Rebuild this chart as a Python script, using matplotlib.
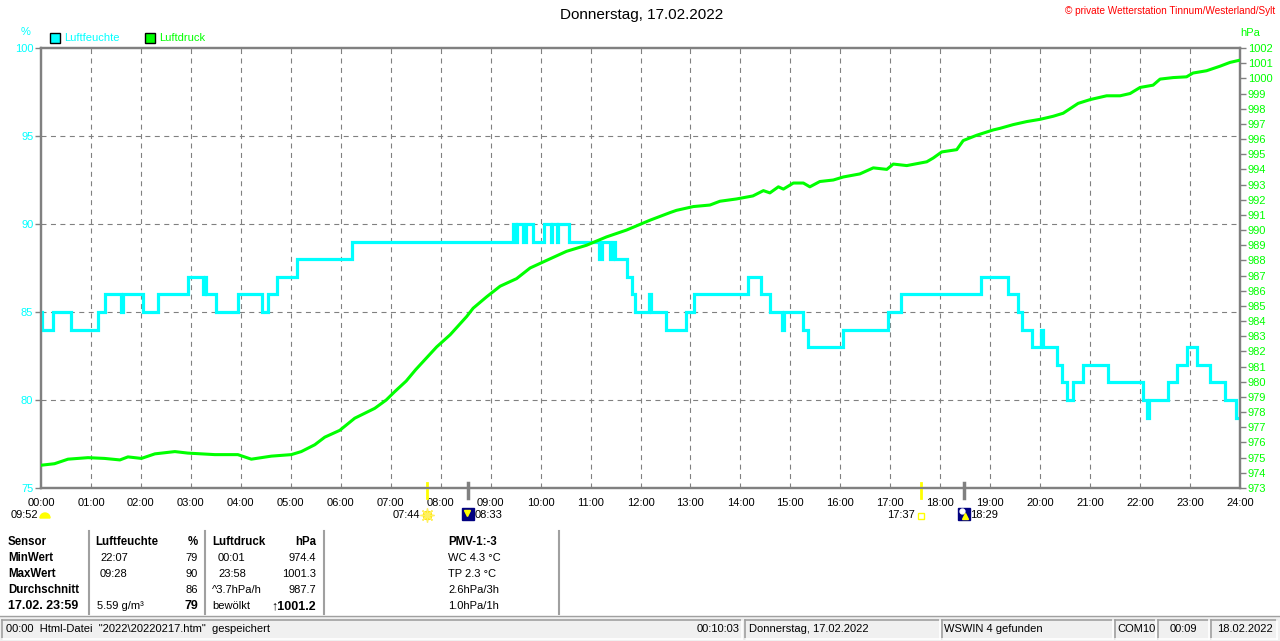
import matplotlib
matplotlib.use("Agg")
import matplotlib.pyplot as plt
from matplotlib.patches import Rectangle, Wedge
from matplotlib.transforms import blended_transform_factory

plt.rcParams['font.family'] = ['Liberation Sans', 'DejaVu Sans']

# ---------------- data ----------------
hour_ticks = list(range(0, 25))
hour_labels = [f"{h:02d}:00" for h in hour_ticks]

hum_ticks = [75, 80, 85, 90, 95, 100]
hpa_ticks = list(range(973, 1003))

# humidity (%), step changes: time in hours -> value
hum_t = [0.00, 0.03, 0.25, 0.61, 1.15, 1.28, 1.60, 1.65, 2.05, 2.35, 2.95, 3.25, 3.28, 3.30,
         3.50, 3.95, 4.43, 4.54, 4.72, 5.12, 6.23, 9.44, 9.50, 9.52, 9.65, 9.70, 9.85, 10.07,
         10.20, 10.23, 10.32, 10.35, 10.57, 11.16, 11.22, 11.39, 11.45, 11.48, 11.72, 11.82,
         11.89, 12.17, 12.21, 12.52, 12.91, 13.07, 14.16, 14.42, 14.60, 14.84, 14.88, 15.26,
         15.36, 16.05, 16.95, 17.21, 18.81, 19.36, 19.56, 19.64, 19.84, 20.02, 20.05, 20.33,
         20.43, 20.54, 20.65, 20.85, 21.36, 22.05, 22.13, 22.18, 22.56, 22.73, 22.93, 23.13,
         23.40, 23.70, 23.91, 24.00]
hum_v = [85, 84, 85, 84, 85, 86, 85, 86, 85, 86, 87, 86, 87, 86,
         85, 86, 85, 86, 87, 88, 89, 90, 89, 90, 89, 90, 89, 90,
         89, 90, 89, 90, 89, 88, 89, 88, 89, 88, 87, 86,
         85, 86, 85, 84, 85, 86, 87, 86, 85, 84, 85, 84,
         83, 84, 85, 86, 87, 86, 85, 84, 83, 84, 83, 82,
         81, 80, 81, 82, 81, 80, 79, 80, 81, 82, 83, 82,
         81, 80, 79, 79]

# air pressure (hPa)
p_t = [0.0, 0.27, 0.54, 0.94, 1.27, 1.58, 1.74, 2.01, 2.28, 2.68, 2.94, 3.48, 3.94, 4.21, 4.61,
       5.01, 5.21, 5.48, 5.68, 5.98, 6.28, 6.68, 6.91, 7.08, 7.31, 7.5, 7.92, 8.19, 8.52, 8.65,
       8.92, 9.19, 9.52, 9.79, 10.12, 10.52, 10.92, 11.32, 11.72, 12.19, 12.59, 12.72, 13.06,
       13.39, 13.59, 13.92, 14.25, 14.46, 14.59, 14.76, 14.86, 15.06, 15.26, 15.39, 15.59,
       15.86, 16.06, 16.39, 16.66, 16.93, 17.06, 17.33, 17.73, 17.86, 18.03, 18.33, 18.46,
       18.73, 19.06, 19.19, 19.46, 19.73, 20.0, 20.26, 20.46, 20.76, 21.0, 21.33, 21.6, 21.8,
       22.0, 22.26, 22.4, 22.66, 22.93, 23.06, 23.33, 23.6, 23.8, 24.0]
p_v = [974.5, 974.6, 974.9, 975.0, 974.95, 974.85, 975.05, 974.95, 975.25, 975.4, 975.3, 975.2,
       975.2, 974.9, 975.1, 975.2, 975.4, 975.85, 976.35, 976.8, 977.6, 978.25, 978.8, 979.35,
       980.05, 980.8, 982.3, 983.1, 984.3, 984.85, 985.6, 986.3, 986.8, 987.5, 988.0, 988.6,
       989.0, 989.55, 990.0, 990.65, 991.15, 991.3, 991.55, 991.65, 991.9, 992.05, 992.25,
       992.6, 992.45, 992.85, 992.7, 993.1, 993.1, 992.85, 993.2, 993.3, 993.5, 993.7, 994.1,
       994.0, 994.35, 994.25, 994.5, 994.75, 995.15, 995.3, 995.9, 996.25, 996.6, 996.7,
       996.95, 997.15, 997.3, 997.5, 997.7, 998.35, 998.6, 998.85, 998.85, 999.0, 999.4,
       999.55, 999.95, 1000.05, 1000.1, 1000.35, 1000.5, 1000.8, 1001.05, 1001.2]

# sun / moon events (hours)
sunrise, moonset, sunset, moonrise = 7 + 44/60, 8 + 33/60, 17 + 37/60, 18 + 29/60
sunrise_lbl, moonset_lbl, sunset_lbl, moonrise_lbl = "07:44", "08:33", "17:37", "18:29"
daylen_lbl = "09:52"

title = "Donnerstag, 17.02.2022"
copyright_txt = "© private Wetterstation Tinnum/Westerland/Sylt"

# table
tbl_col1 = ["Sensor", "MinWert", "MaxWert", "Durchschnitt", "17.02. 23:59"]
tbl_hum_head = ["Luftfeuchte", "%"]
tbl_hum_left = ["22:07", "09:28", "", "5.59 g/m³"]
tbl_hum_right = ["79", "90", "86", "79"]
tbl_p_head = ["Luftdruck", "hPa"]
tbl_p_left = ["00:01", "23:58", "^3.7hPa/h", "bewölkt"]
tbl_p_right = ["974.4", "1001.3", "987.7", "↑1001.2"]
tbl_pmv = ["PMV-1:-3", "WC 4.3 °C", "TP 2.3 °C", "2.6hPa/3h", "1.0hPa/1h"]

status_left = '00:00  Html-Datei  "2022\\20220217.htm"  gespeichert'
status_time = "00:10:03"
status_panels = ["Donnerstag, 17.02.2022", "WSWIN 4 gefunden", "COM10", "00:09", "18.02.2022"]

# ---------------- figure ----------------
W, H = 1280, 641
CYAN, GREEN, GRAY = "#00FFFF", "#00FF00", "#808080"
fig = plt.figure(figsize=(W / 100, H / 100), dpi=100)
fig.patch.set_facecolor("white")

ov = fig.add_axes([0, 0, 1, 1])
ov.set_xlim(0, W)
ov.set_ylim(H, 0)
ov.axis("off")

L, R, T, B = 41, 1240, 48, 488
ax = fig.add_axes([L / W, (H - B) / H, (R - L) / W, (B - T) / H])
ax.set_facecolor("white")
ax2 = ax.twinx()

dash = (0, (4.5, 4))
ax.set_xlim(0, 24)
ax.set_ylim(75, 100)
ax.set_xticks(hour_ticks)
ax.set_xticklabels(hour_labels)
ax.set_yticks(hum_ticks)
ax.set_yticklabels([str(v) for v in hum_ticks])
for h in hour_ticks[1:-1]:
    ax.axvline(h, color=GRAY, lw=0.8, ls=dash, zorder=1)
for v in hum_ticks[1:-1]:
    ax.axhline(v, color=GRAY, lw=0.8, ls=dash, zorder=1)

ax.tick_params(axis="x", length=0, pad=7, labelsize=8, colors="black")
ax.tick_params(axis="y", length=4, width=1, color=GRAY, pad=1.5, labelsize=8, labelcolor=CYAN)
ax2.set_ylim(973, 1002)
ax2.set_yticks(hpa_ticks)
ax2.set_yticklabels([str(v) for v in hpa_ticks])
ax2.tick_params(axis="y", length=4, width=1, color=GRAY, pad=1.5, labelsize=8, labelcolor=GREEN)

for a in (ax, ax2):
    for s in a.spines.values():
        s.set_color(GRAY)
        s.set_linewidth(1.6)

ax.plot(hum_t, hum_v, drawstyle="steps-post", color=CYAN, lw=2.3, zorder=3,
        solid_joinstyle="miter")
ax2.plot(p_t, p_v, color=GREEN, lw=2.2, zorder=4)
ax.set_zorder(ax2.get_zorder() - 1)
ax2.patch.set_visible(False)

# event ticks below axis
btr = blended_transform_factory(ax.transData, ax.transAxes)
for t, c, w in [(sunrise, "#FFFF00", 2), (sunset, "#FFFF00", 2), (moonset, GRAY, 2.5), (moonrise, GRAY, 2.5)]:
    ax.plot([t, t], [0.012, -0.022], transform=btr, color=c, lw=w, clip_on=False, zorder=6)

# event labels (x in data hours, y in pixels)
etr = blended_transform_factory(ax.transData, ov.transData)
fs = 8
ax.text(sunrise - 0.14, 515, sunrise_lbl, transform=etr, ha="right", va="center", fontsize=fs)
ax.plot([sunrise], [515], transform=etr, marker="o", ms=6, color="#FFFF00", mec="#FFE000", clip_on=False)
ax.plot([sunrise], [515], transform=etr, marker=(8, 2, 0), ms=10, color="#FFF060", mew=1, clip_on=False)
ax.text(moonset + 0.12, 515, moonset_lbl, transform=etr, ha="left", va="center", fontsize=fs)
ax.plot([moonset], [514], transform=etr, marker="s", ms=9, color="#000080", clip_on=False)
ax.plot([moonset - 0.03], [513], transform=etr, marker="v", ms=4, color="#FFFF00", clip_on=False)
ax.text(sunset - 0.12, 515, sunset_lbl, transform=etr, ha="right", va="center", fontsize=fs)
ax.plot([sunset], [516], transform=etr, marker="s", ms=4.5, mfc="none", mec="#FFFF00", mew=1, clip_on=False)
ax.text(moonrise + 0.12, 515, moonrise_lbl, transform=etr, ha="left", va="center", fontsize=fs)
ax.plot([moonrise], [514], transform=etr, marker="s", ms=9, color="#000080", clip_on=False)
ax.plot([moonrise - 0.05], [511], transform=etr, marker="o", ms=3.5, color="white", clip_on=False)
ax.plot([moonrise + 0.02], [516], transform=etr, marker="^", ms=4, color="#FFFF00", clip_on=False)
ov.text(38, 515, daylen_lbl, ha="right", va="center", fontsize=fs)
ov.add_patch(Wedge((45, 518), 5, 180, 360, color="#FFFF00"))

# titles / labels
ov.text(642, 15, title, ha="center", va="center", fontsize=11)
ov.text(1275, 11, copyright_txt, ha="right", va="center", fontsize=7.2, color="red")
ov.text(26, 32, "%", ha="center", va="center", fontsize=8, color=CYAN)
ov.text(1250, 33, "hPa", ha="center", va="center", fontsize=8, color=GREEN)
ov.add_patch(Rectangle((50, 33), 10, 10, facecolor=CYAN, edgecolor="black", lw=1))
ov.text(64, 38, "Luftfeuchte", ha="left", va="center", fontsize=8, color=CYAN)
ov.add_patch(Rectangle((145, 33), 10, 10, facecolor=GREEN, edgecolor="black", lw=1))
ov.text(159, 38, "Luftdruck", ha="left", va="center", fontsize=8, color=GREEN)

# table
rows_y = [542, 558, 574, 590, 606]
for i, txt in enumerate(tbl_col1):
    ov.text(8, rows_y[i], txt, ha="left", va="center", fontsize=9 if i == 4 else 8.3, fontweight="bold")
ov.text(95, rows_y[0], tbl_hum_head[0], ha="left", va="center", fontsize=8.3, fontweight="bold")
ov.text(198, rows_y[0], tbl_hum_head[1], ha="right", va="center", fontsize=8.3, fontweight="bold")
ov.text(212, rows_y[0], tbl_p_head[0], ha="left", va="center", fontsize=8.3, fontweight="bold")
ov.text(316, rows_y[0], tbl_p_head[1], ha="right", va="center", fontsize=8.3, fontweight="bold")
for i in range(4):
    y = rows_y[i + 1]
    last = i == 3
    ov.text(100 if i < 2 else 97, y, tbl_hum_left[i], ha="left", va="center", fontsize=8)
    ov.text(198, y, tbl_hum_right[i], ha="right", va="center",
            fontsize=9 if last else 8, fontweight="bold" if last else "normal")
    ov.text(218 if i < 2 else 212, y, tbl_p_left[i], ha="left", va="center", fontsize=8)
    ov.text(316, y, tbl_p_right[i], ha="right", va="center",
            fontsize=9 if last else 8, fontweight="bold" if last else "normal")
ov.text(448, rows_y[0], tbl_pmv[0], ha="left", va="center", fontsize=8.3, fontweight="bold")
for i in range(1, 5):
    ov.text(448, rows_y[i], tbl_pmv[i], ha="left", va="center", fontsize=8)
for xs in [88.5, 205, 324, 559]:
    ov.plot([xs, xs], [531, 614], color="#A0A0A0", lw=1.5)

# status bar
ov.plot([0, W], [615.5, 615.5], color="#A0A0A0", lw=1)
ov.add_patch(Rectangle((0, 617), W, 24, facecolor="#F0F0F0", edgecolor="none"))
panels = [(2, 742), (745, 940), (942, 1113), (1115, 1156), (1158, 1209), (1211, 1277)]
for x0, x1 in panels:
    ov.plot([x0, x1], [619.5, 619.5], color="#A0A0A0", lw=1.2)
    ov.plot([x0, x0], [619.5, 639], color="#A0A0A0", lw=1.2)
    ov.plot([x0, x1], [639, 639], color="white", lw=1.2)
    ov.plot([x1, x1], [619.5, 639], color="white", lw=1.2)
sy = 629.5
ov.text(6, sy, status_left, ha="left", va="center", fontsize=8)
ov.text(740, sy, status_time, ha="right", va="center", fontsize=8)
ov.text(749, sy, status_panels[0], ha="left", va="center", fontsize=8)
ov.text(944, sy, status_panels[1], ha="left", va="center", fontsize=8)
ov.text(1117, sy, status_panels[2], ha="left", va="center", fontsize=8)
ov.text(1183, sy, status_panels[3], ha="center", va="center", fontsize=8)
ov.text(1217, sy, status_panels[4], ha="left", va="center", fontsize=8)

fig.savefig("out.png", dpi=100, facecolor="white")
